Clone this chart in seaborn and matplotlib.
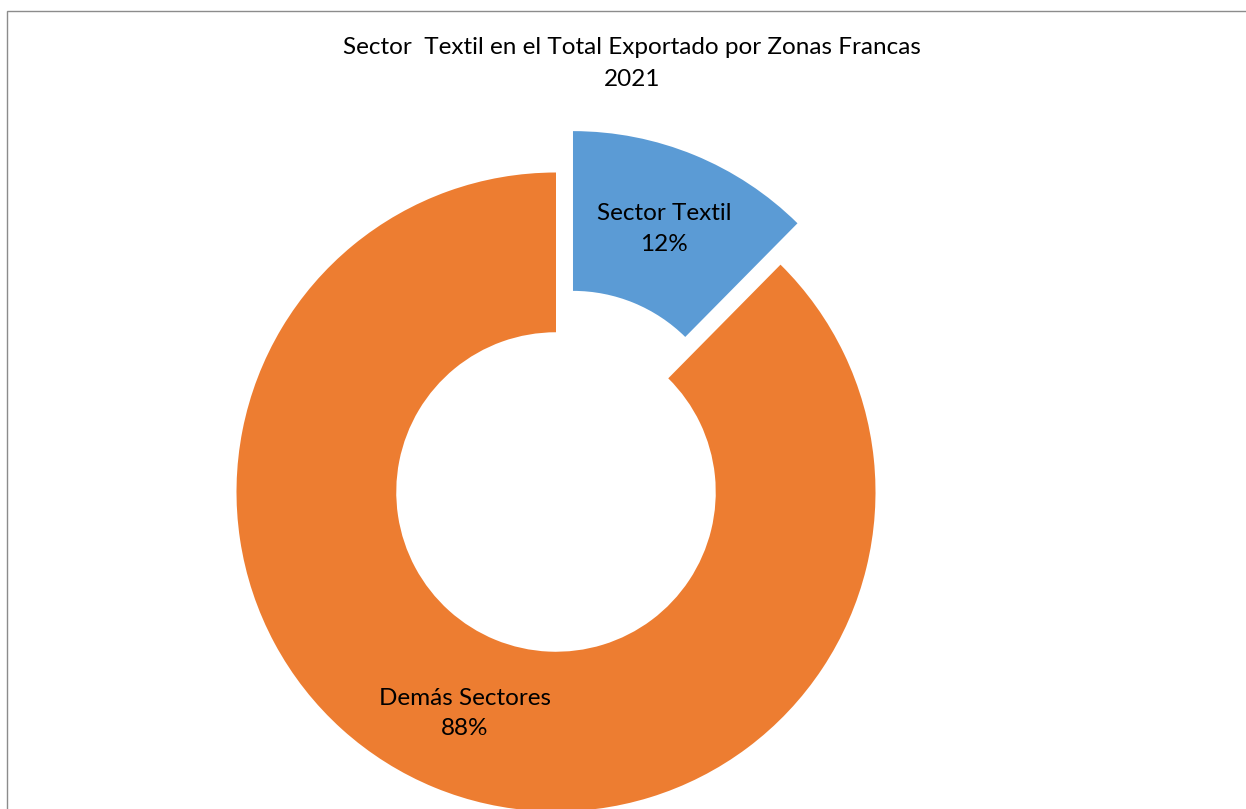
import seaborn as sns
import matplotlib.pyplot as plt
from matplotlib.patches import Rectangle

#data (slice angle ~44.6 deg -> about 12.4%)
sectores = ["Sector Textil", "Demás Sectores"]
participacion = [12.4, 87.6]
colores = ["#5B9BD5", "#ED7D31"]
titulo = "Sector  Textil en el Total Exportado por Zonas Francas\n2021"

sns.set_theme(style="white")
plt.rcParams['font.family'] = ['Lato', 'DejaVu Sans']

fig = plt.figure(figsize=(12.46, 8.09), dpi=100)
ax = fig.add_axes([0, 0, 1, 1])

#donut, axes in pixel units so the ring runs off the bottom like the original
radio = 319.5
nombres = iter(sectores)
wedges, texts, pcts = ax.pie(participacion, colors=colores, radius=radio, center=(556, 317),
                             startangle=90, counterclock=False, explode=[0.14 * radio, 0],
                             wedgeprops=dict(width=0.5 * radio, linewidth=0), pctdistance=0.75,
                             autopct=lambda p: f"{next(nombres)}\n{p:.0f}%",
                             textprops=dict(fontsize=17.5, color="black", linespacing=1.55))
ax.set_xlim(0, 1246)
ax.set_ylim(0, 809)
ax.set_aspect("equal")
ax.axis("off")

fig.text(632 / 1246, 1 - 63.5 / 809, titulo, ha="center", va="center", fontsize=17.5,
         color="black", linespacing=1.6)

#chart area border (only top and left visible)
fig.patches.append(Rectangle((7 / 1246, -0.1), 1.2, 1.1 - 11 / 809, transform=fig.transFigure,
                             fill=False, edgecolor="#8c8c8c", linewidth=1))

fig.savefig("out.png", dpi=100)
